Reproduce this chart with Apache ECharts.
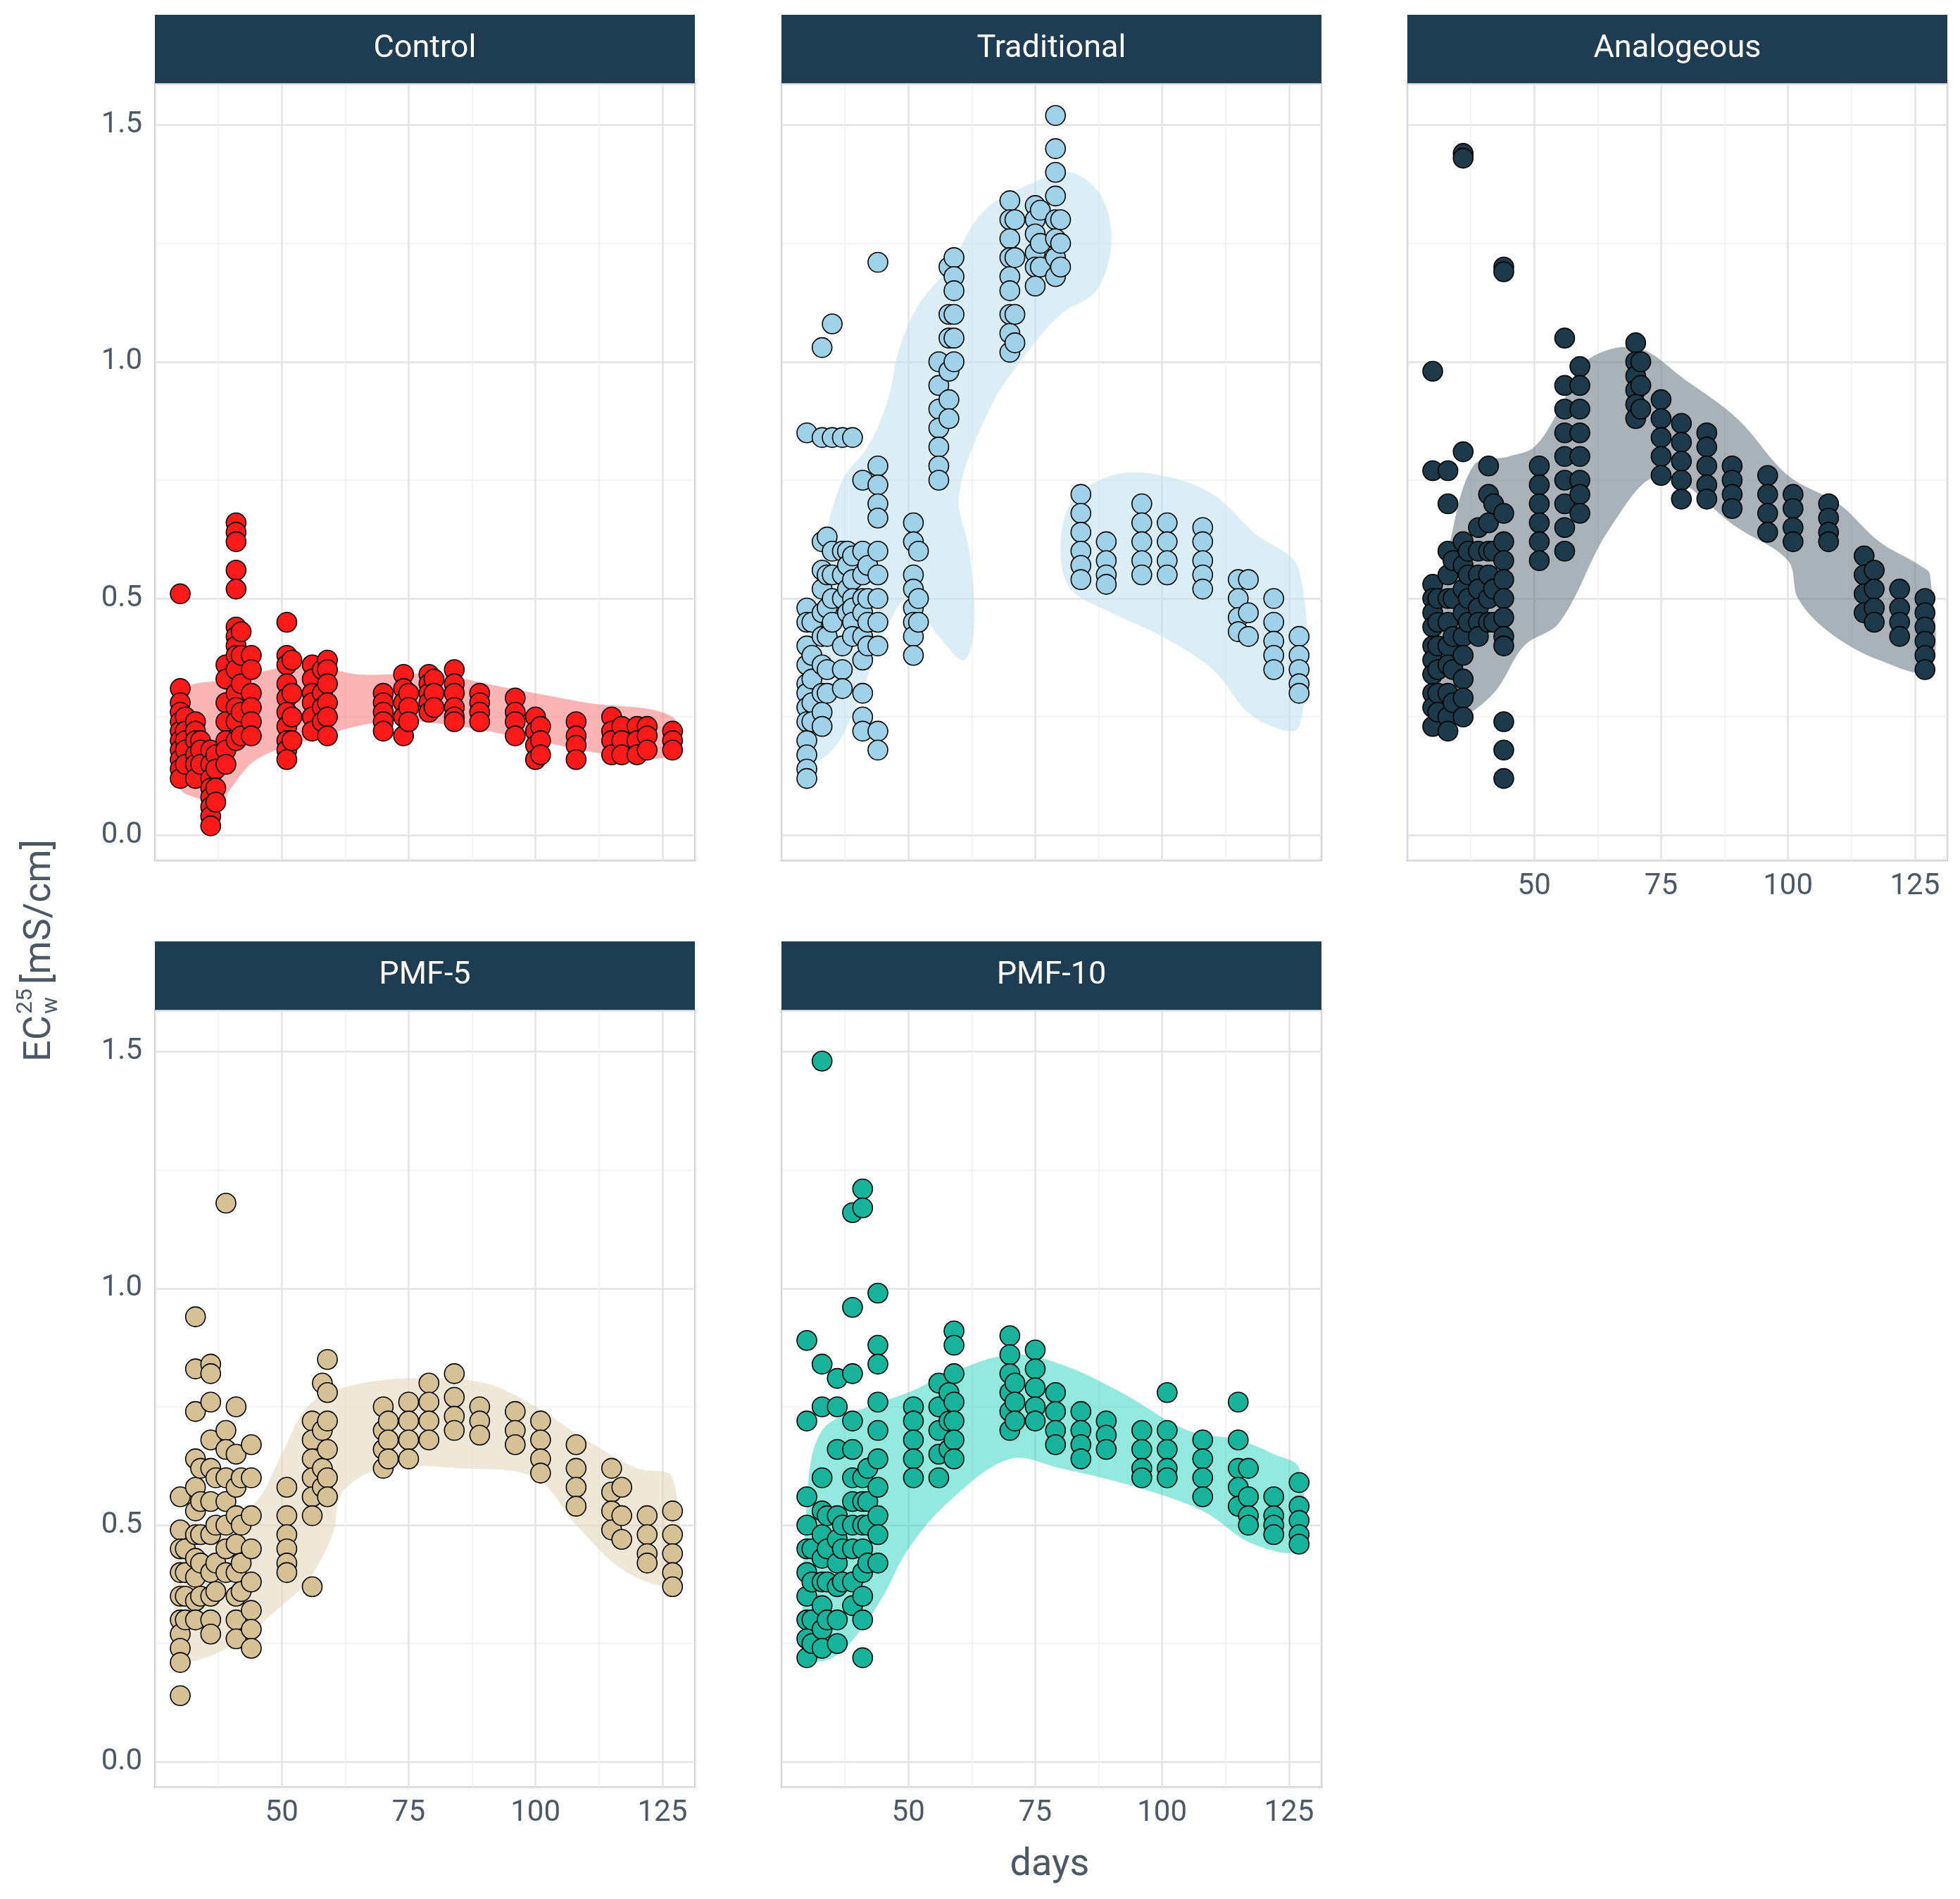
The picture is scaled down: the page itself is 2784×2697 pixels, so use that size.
<!DOCTYPE html>
<html>
<head>
<meta charset="utf-8">
<script src="https://cdn.jsdelivr.net/npm/echarts@6/dist/echarts.min.js"></script>
<style>html,body{margin:0;padding:0;background:#fff}#chart{width:2784px;height:2697px}</style>
</head>
<body>
<div id="chart"></div>
<script>
// 各处理的测量值：[天数, [EC值...]]
var controlPts = [
  [30,[0.51,0.31,0.28,0.26,0.24,0.22,0.2,0.18,0.16,0.14,0.12]],
  [31,[0.25,0.22,0.2,0.18,0.15]],
  [33,[0.24,0.22,0.2,0.17,0.15,0.12]],
  [34,[0.2,0.18,0.15]],
  [36,[0.18,0.15,0.12,0.1,0.08,0.06,0.04,0.02]],
  [37,[0.17,0.14,0.1,0.07]],
  [39,[0.36,0.33,0.28,0.24,0.2,0.18,0.15]],
  [41,[0.66,0.64,0.62,0.56,0.52,0.44,0.42,0.4,0.38,0.35,0.3,0.27,0.24,0.2]],
  [42,[0.43,0.38,0.32,0.26,0.21]],
  [44,[0.38,0.35,0.3,0.27,0.24,0.21]],
  [51,[0.45,0.38,0.36,0.32,0.29,0.26,0.23,0.2,0.18,0.16]],
  [52,[0.37,0.3,0.25,0.2]],
  [56,[0.36,0.33,0.3,0.28,0.25,0.22]],
  [58,[0.35,0.3,0.27,0.24]],
  [59,[0.37,0.35,0.32,0.28,0.25,0.21]],
  [70,[0.3,0.28,0.26,0.24,0.22]],
  [74,[0.34,0.31,0.28,0.25,0.21]],
  [75,[0.3,0.27,0.24]],
  [79,[0.34,0.32,0.3,0.28,0.26]],
  [80,[0.33,0.3,0.27]],
  [84,[0.35,0.32,0.3,0.27,0.25,0.24]],
  [89,[0.3,0.28,0.26,0.24]],
  [96,[0.29,0.26,0.24,0.21]],
  [100,[0.25,0.22,0.19,0.16]],
  [101,[0.23,0.2,0.17]],
  [108,[0.24,0.21,0.19,0.16]],
  [115,[0.25,0.22,0.2,0.17]],
  [117,[0.23,0.2,0.17]],
  [120,[0.23,0.2,0.17]],
  [122,[0.23,0.21,0.18]],
  [127,[0.22,0.2,0.18]]
];
var traditionalPts = [
  [30,[0.85,0.48,0.45,0.4,0.36,0.32,0.3,0.27,0.24,0.2,0.17,0.14,0.12]],
  [31,[0.45,0.38,0.33,0.28,0.24]],
  [33,[1.03,0.84,0.62,0.56,0.52,0.47,0.42,0.36,0.3,0.26,0.23]],
  [34,[0.63,0.55,0.48,0.42,0.35,0.3]],
  [35,[1.08,0.84,0.6,0.55,0.5,0.45]],
  [37,[0.84,0.6,0.55,0.5,0.4,0.35,0.31]],
  [38,[0.6,0.57,0.52,0.47]],
  [39,[0.84,0.59,0.54,0.5,0.48,0.45,0.42]],
  [41,[0.75,0.6,0.55,0.5,0.47,0.42,0.37,0.3,0.25,0.22]],
  [42,[0.57,0.5,0.45,0.4]],
  [44,[1.21,0.78,0.74,0.7,0.67,0.6,0.55,0.5,0.45,0.4,0.22,0.18]],
  [51,[0.66,0.62,0.55,0.52,0.48,0.45,0.42,0.38]],
  [52,[0.6,0.5,0.45]],
  [56,[1.0,0.95,0.9,0.86,0.82,0.78,0.75]],
  [58,[1.2,1.1,1.05,0.98,0.92,0.88]],
  [59,[1.22,1.18,1.15,1.1,1.05,1.0]],
  [70,[1.34,1.3,1.26,1.22,1.18,1.15,1.1,1.06,1.02]],
  [71,[1.3,1.22,1.1,1.04]],
  [75,[1.33,1.3,1.27,1.23,1.2,1.16]],
  [76,[1.32,1.25,1.2]],
  [79,[1.52,1.45,1.4,1.35,1.3,1.26,1.22,1.18]],
  [80,[1.3,1.25,1.2]],
  [84,[0.72,0.68,0.64,0.6,0.57,0.54]],
  [89,[0.62,0.58,0.55,0.53]],
  [96,[0.7,0.66,0.62,0.58,0.55]],
  [101,[0.66,0.62,0.58,0.55]],
  [108,[0.65,0.62,0.58,0.55,0.52]],
  [115,[0.54,0.5,0.46,0.43]],
  [117,[0.54,0.47,0.42]],
  [122,[0.5,0.45,0.41,0.38,0.35]],
  [127,[0.42,0.38,0.35,0.32,0.3]]
];
var analogeousPts = [
  [30,[0.98,0.77,0.53,0.5,0.47,0.44,0.4,0.37,0.34,0.3,0.27,0.23]],
  [31,[0.5,0.45,0.4,0.35,0.3,0.26]],
  [33,[0.77,0.7,0.6,0.55,0.5,0.45,0.4,0.36,0.3,0.25,0.22]],
  [34,[0.58,0.5,0.42,0.35,0.28]],
  [36,[1.44,1.43,0.81,0.62,0.57,0.52,0.47,0.42,0.38,0.33,0.29,0.25]],
  [37,[0.6,0.55,0.5,0.45]],
  [39,[0.65,0.6,0.55,0.52,0.48,0.45,0.42]],
  [41,[0.78,0.72,0.66,0.6,0.55,0.5,0.45]],
  [42,[0.7,0.6,0.52,0.45]],
  [44,[1.2,1.19,0.68,0.62,0.58,0.54,0.5,0.46,0.42,0.4,0.24,0.18,0.12]],
  [51,[0.78,0.74,0.7,0.66,0.62,0.58]],
  [56,[1.05,0.95,0.9,0.85,0.8,0.75,0.7,0.65,0.6]],
  [59,[0.99,0.95,0.9,0.85,0.8,0.75,0.72,0.68]],
  [70,[1.04,1.0,0.97,0.94,0.91,0.88]],
  [71,[1.0,0.95,0.9]],
  [75,[0.92,0.88,0.84,0.8,0.76]],
  [79,[0.87,0.83,0.79,0.75,0.71]],
  [84,[0.85,0.82,0.78,0.74,0.71]],
  [89,[0.78,0.75,0.72,0.69]],
  [96,[0.76,0.72,0.68,0.64]],
  [101,[0.72,0.69,0.65,0.62]],
  [108,[0.7,0.67,0.64,0.62]],
  [115,[0.59,0.55,0.51,0.47]],
  [117,[0.56,0.52,0.48,0.45]],
  [122,[0.52,0.48,0.45,0.42]],
  [127,[0.5,0.47,0.44,0.41,0.38,0.35]]
];
var pmf5Pts = [
  [30,[0.56,0.49,0.45,0.4,0.35,0.3,0.27,0.24,0.21,0.14]],
  [31,[0.45,0.4,0.35,0.3]],
  [33,[0.94,0.83,0.74,0.64,0.58,0.53,0.48,0.43,0.39,0.34,0.3]],
  [34,[0.62,0.55,0.48,0.42,0.35]],
  [36,[0.84,0.82,0.76,0.68,0.62,0.55,0.48,0.4,0.35,0.3,0.27]],
  [37,[0.6,0.5,0.42,0.36]],
  [39,[1.18,0.7,0.66,0.6,0.55,0.5,0.45,0.4]],
  [41,[0.75,0.65,0.58,0.52,0.46,0.4,0.35,0.3,0.26]],
  [42,[0.6,0.5,0.42,0.36]],
  [44,[0.67,0.6,0.52,0.45,0.38,0.32,0.28,0.24]],
  [51,[0.58,0.52,0.48,0.45,0.42,0.4]],
  [56,[0.72,0.68,0.64,0.6,0.56,0.52,0.37]],
  [58,[0.8,0.7,0.62,0.58]],
  [59,[0.85,0.78,0.72,0.66,0.6,0.56]],
  [70,[0.75,0.7,0.66,0.62]],
  [71,[0.72,0.68,0.64]],
  [75,[0.76,0.72,0.68,0.64]],
  [79,[0.8,0.76,0.72,0.68]],
  [84,[0.82,0.77,0.73,0.7]],
  [89,[0.75,0.72,0.69]],
  [96,[0.74,0.7,0.67]],
  [101,[0.72,0.68,0.64,0.61]],
  [108,[0.67,0.62,0.58,0.54]],
  [115,[0.62,0.57,0.53,0.49]],
  [117,[0.58,0.52,0.47]],
  [122,[0.52,0.48,0.44,0.42]],
  [127,[0.53,0.48,0.44,0.4,0.37]]
];
var pmf10Pts = [
  [30,[0.89,0.72,0.56,0.5,0.45,0.4,0.35,0.3,0.26,0.22]],
  [31,[0.45,0.38,0.3,0.25]],
  [33,[1.48,0.84,0.75,0.6,0.53,0.48,0.43,0.38,0.33,0.28,0.24]],
  [34,[0.52,0.45,0.38,0.3]],
  [36,[0.81,0.75,0.66,0.52,0.47,0.42,0.37,0.3,0.25]],
  [37,[0.5,0.45,0.38]],
  [39,[1.16,0.96,0.82,0.72,0.66,0.6,0.55,0.5,0.45,0.38,0.33]],
  [41,[1.21,1.17,0.6,0.55,0.5,0.45,0.4,0.35,0.3,0.22]],
  [42,[0.62,0.55,0.5,0.42]],
  [44,[0.99,0.88,0.84,0.76,0.7,0.64,0.58,0.52,0.48,0.42]],
  [51,[0.75,0.72,0.68,0.64,0.6]],
  [56,[0.8,0.75,0.7,0.65,0.6]],
  [58,[0.78,0.72,0.66]],
  [59,[0.91,0.88,0.82,0.76,0.72,0.68,0.64]],
  [70,[0.9,0.86,0.82,0.78,0.74,0.7]],
  [71,[0.8,0.76,0.72]],
  [75,[0.87,0.83,0.79,0.75,0.72]],
  [79,[0.78,0.74,0.7,0.67]],
  [84,[0.74,0.7,0.67,0.64]],
  [89,[0.72,0.69,0.66]],
  [96,[0.7,0.66,0.62,0.6]],
  [101,[0.78,0.7,0.66,0.62,0.6]],
  [108,[0.68,0.64,0.6,0.56]],
  [115,[0.76,0.68,0.62,0.58,0.54]],
  [117,[0.62,0.56,0.52,0.5]],
  [122,[0.56,0.52,0.5,0.48]],
  [127,[0.59,0.54,0.51,0.48,0.46]]
];

// 密度区域轮廓（数据坐标）
var controlArea = [[[30,0.3],[40,0.33],[55,0.36],[65,0.34],[80,0.34],[95,0.31],[110,0.28],[127,0.25],[127,0.17],[115,0.17],[100,0.2],[85,0.23],[70,0.24],[55,0.2],[45,0.16],[40,0.1],[38,0.07],[33,0.08],[30,0.1]]];
var traditionalArea = [
  [[29,0.15],[30,0.4],[33,0.6],[37,0.75],[42,0.82],[46,0.92],[48,1.02],[52,1.12],[58,1.2],[65,1.32],[75,1.38],[82,1.4],[88,1.35],[90,1.25],[87,1.15],[80,1.1],[72,1.0],[66,0.9],[60,0.72],[62,0.6],[63,0.45],[61,0.37],[56,0.42],[50,0.5],[45,0.42],[40,0.28],[35,0.18]],
  [[80,0.6],[82,0.7],[90,0.76],[100,0.76],[110,0.72],[118,0.64],[127,0.56],[127,0.23],[118,0.25],[110,0.35],[100,0.42],[90,0.47],[82,0.52]]
];
var analogeousArea = [[[30,0.45],[33,0.6],[38,0.78],[45,0.8],[50,0.82],[55,0.9],[60,1.0],[70,1.03],[80,0.96],[90,0.88],[100,0.76],[110,0.7],[118,0.62],[126,0.57],[128,0.55],[128,0.35],[118,0.37],[108,0.43],[102,0.5],[100,0.58],[90,0.65],[75,0.76],[65,0.65],[55,0.45],[48,0.4],[42,0.3],[35,0.25],[30,0.28]]];
var pmf5Area = [[[30,0.22],[30,0.5],[38,0.5],[45,0.55],[50,0.65],[55,0.75],[62,0.79],[75,0.81],[90,0.8],[100,0.75],[110,0.68],[120,0.62],[127,0.6],[127,0.38],[118,0.4],[108,0.5],[100,0.6],[85,0.62],[70,0.62],[62,0.57],[60,0.48],[55,0.38],[50,0.33],[42,0.26],[35,0.22]]];
var pmf10Area = [[[30,0.22],[30,0.55],[33,0.7],[42,0.75],[50,0.78],[58,0.82],[70,0.86],[80,0.84],[92,0.78],[105,0.7],[115,0.68],[122,0.65],[127,0.62],[127,0.45],[118,0.46],[108,0.53],[95,0.58],[80,0.62],[70,0.64],[58,0.55],[50,0.45],[45,0.35],[40,0.27],[35,0.22]]];

var panels = [
  {name:'Control', pts:controlPts, area:controlArea, color:'#FF1A1A', fill:'rgba(248,118,118,0.55)', left:220, top:119, yLab:true, xLab:false},
  {name:'Traditional', pts:traditionalPts, area:traditionalArea, color:'#9FD1E8', fill:'rgba(190,224,238,0.55)', left:1110, top:119, yLab:false, xLab:false},
  {name:'Analogeous', pts:analogeousPts, area:analogeousArea, color:'#1D3A4B', fill:'rgba(100,115,128,0.55)', left:1999, top:119, yLab:false, xLab:true},
  {name:'PMF-5', pts:pmf5Pts, area:pmf5Area, color:'#D6C197', fill:'rgba(225,212,182,0.55)', left:220, top:1435, yLab:true, xLab:true},
  {name:'PMF-10', pts:pmf10Pts, area:pmf10Area, color:'#18B39B', fill:'rgba(40,212,190,0.5)', left:1110, top:1435, yLab:false, xLab:true}
];
var W = 767, H = 1103;
var textColor = '#4D5866';

var grids = [], xAxes = [], yAxes = [], series = [], graphics = [];
panels.forEach(function (p, i) {
  grids.push({left:p.left, top:p.top, width:W, height:H, show:true, borderColor:'#4F5F6E', borderWidth:1.6, backgroundColor:'transparent'});
  xAxes.push({
    gridIndex:i, type:'value', min:25, max:131.4, interval:25,
    axisLine:{show:false}, axisTick:{show:false},
    axisLabel:{show:p.xLab, fontSize:42, color:textColor, margin:16, showMinLabel:false, showMaxLabel:false, fontFamily:'Roboto'},
    splitLine:{lineStyle:{color:'#E3E3E3', width:2.5}},
    minorTick:{show:false, splitNumber:2},
    minorSplitLine:{show:true, lineStyle:{color:'#EFEFEF', width:1.5}}
  });
  yAxes.push({
    gridIndex:i, type:'value', min:-0.053, max:1.587, splitNumber:3,
    axisLine:{show:false}, axisTick:{show:false},
    axisLabel:{show:p.yLab, fontSize:42, color:textColor, margin:18, showMinLabel:false, showMaxLabel:false, fontFamily:'Roboto',
      formatter:function (v) { return v.toFixed(1); }},
    splitLine:{lineStyle:{color:'#E3E3E3', width:2.5}},
    minorTick:{show:false, splitNumber:2},
    minorSplitLine:{show:true, lineStyle:{color:'#EFEFEF', width:1.5}}
  });
  p.area.forEach(function (poly) {
    series.push({
      type:'custom', xAxisIndex:i, yAxisIndex:i, z:1, silent:true,
      data:[poly[0]],
      renderItem:function (params, api) {
        return {type:'polygon', shape:{points:poly.map(function (q) { return api.coord(q); }), smooth:0.35},
          style:{fill:p.fill}};
      }
    });
  });
  var data = [];
  p.pts.forEach(function (g) { g[1].forEach(function (v) { data.push([g[0], v]); }); });
  series.push({
    type:'scatter', xAxisIndex:i, yAxisIndex:i, z:3, data:data, symbolSize:28,
    itemStyle:{color:p.color, borderColor:'#000', borderWidth:1.6, opacity:1}
  });
  // 分面标题条
  graphics.push({type:'rect', left:p.left, top:p.top - 98, shape:{width:W, height:98}, style:{fill:'#1E3D52'}});
  graphics.push({type:'text', x:p.left + W / 2, y:p.top - 49,
    style:{text:p.name, fill:'#fff', fontSize:45, fontFamily:'Roboto', align:'center', verticalAlign:'middle'}});
});

// 轴标题
graphics.push({type:'text', x:1491, y:2649, style:{text:'days', fill:textColor, fontSize:54, fontFamily:'Roboto', align:'center', verticalAlign:'middle'}});
graphics.push({type:'group', x:57, y:1332, rotation:Math.PI / 2, children:[
  {type:'text', x:-176, y:0, style:{text:'EC', fill:textColor, fontSize:54, fontFamily:'Roboto', align:'left', verticalAlign:'middle'}},
  {type:'text', x:-108, y:-20, style:{text:'25', fill:textColor, fontSize:32, fontFamily:'Roboto', align:'left', verticalAlign:'middle'}},
  {type:'text', x:-108, y:16, style:{text:'w', fill:textColor, fontSize:32, fontFamily:'Roboto', align:'left', verticalAlign:'middle'}},
  {type:'text', x:-66, y:0, style:{text:'[mS/cm]', fill:textColor, fontSize:54, fontFamily:'Roboto', align:'left', verticalAlign:'middle'}}
]});

var myChart = echarts.init(document.getElementById('chart'));
myChart.setOption({
  animation:false,
  backgroundColor:'#fff',
  grid:grids, xAxis:xAxes, yAxis:yAxes, series:series, graphic:graphics
});
</script>
</body>
</html>
